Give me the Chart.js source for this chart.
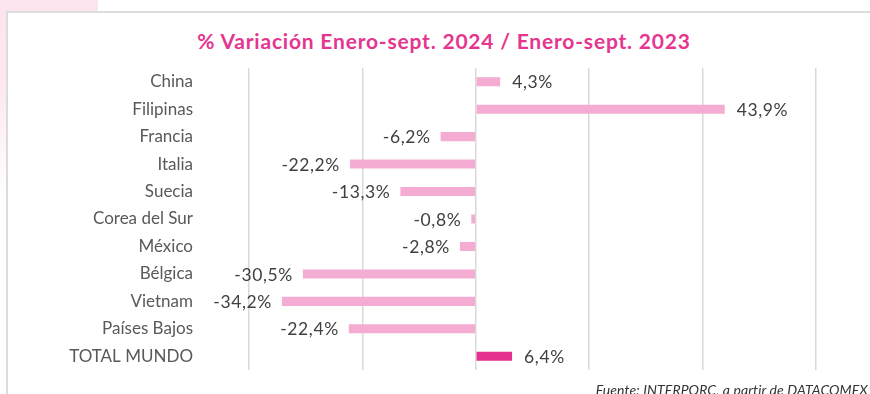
<!DOCTYPE html>
<html lang="es">
  <head>
    <meta charset="UTF-8" />
    <title>Variación Enero-sept. 2024 / 2023</title>
    <style>
      html, body { margin: 0; padding: 0; background: #fff; }
      body { width: 870px; height: 394px; position: relative; overflow: hidden; font-family: Lato, "Open Sans", sans-serif; }
      .tinte {
        position: absolute; left: 0; top: 0; width: 98px; height: 200px;
        background: linear-gradient(180deg, #fce4ef 0%, #fde9f2 45%, rgba(255,255,255,0) 100%);
      }
      .marco {
        position: absolute; left: 6px; top: 11px; width: 900px; height: 420px;
        border: 2px solid #dcdcdc; background: #fff; box-sizing: border-box;
      }
      .titulo {
        position: absolute; left: 0; width: 888px; top: 28px; text-align: center;
        color: #e5358f; font-weight: bold; font-size: 21px; letter-spacing: 0.8px;
      }
      .fuente {
        position: absolute; right: 2px; top: 381px; color: #333;
        font-style: italic; font-size: 14px; letter-spacing: 0.1px;
      }
      #variacion { position: absolute; left: 0; top: 0; }
    </style>
  </head>
  <body>
    <div class="tinte"></div>
    <div class="marco"></div>
    <div class="titulo">% Variación Enero-sept. 2024 / Enero-sept. 2023</div>
    <canvas id="variacion" width="870" height="394"></canvas>
    <div class="fuente">Fuente: INTERPORC, a partir de DATACOMEX</div>

    <script src="https://cdn.jsdelivr.net/npm/chart.js@4.4.1/dist/chart.umd.min.js"></script>
    <script>
      // países y variación (%) ene-sept 2024 vs ene-sept 2023
      const paises = [
        "China", "Filipinas", "Francia", "Italia", "Suecia", "Corea del Sur",
        "México", "Bélgica", "Vietnam", "Países Bajos", "TOTAL MUNDO",
      ];
      const variacion = [4.3, 43.9, -6.2, -22.2, -13.3, -0.8, -2.8, -30.5, -34.2, -22.4, 6.4];

      const rosa = "#f4acd3";
      const rosaFuerte = "#e5308f";
      const colores = paises.map((p) => (p === "TOTAL MUNDO" ? rosaFuerte : rosa));

      // etiqueta con el valor al final de cada barra
      const etiquetas = {
        id: "etiquetas",
        afterDatasetsDraw(chart) {
          const ctx = chart.ctx;
          const meta = chart.getDatasetMeta(0);
          ctx.save();
          ctx.font = "17.5px Lato, 'Open Sans', sans-serif";
          ctx.letterSpacing = "0.6px";
          ctx.fillStyle = "#404040";
          ctx.textBaseline = "middle";
          meta.data.forEach((bar, i) => {
            const v = variacion[i];
            const txt = v.toFixed(1).replace(".", ",") + "%";
            if (v >= 0) {
              ctx.textAlign = "left";
              ctx.fillText(txt, bar.x + 12, bar.y + 1);
            } else {
              ctx.textAlign = "right";
              ctx.fillText(txt, bar.x - 10, bar.y + 1);
            }
          });
          ctx.restore();
        },
      };

      new Chart(document.getElementById("variacion"), {
        type: "bar",
        data: {
          labels: paises,
          datasets: [
            {
              data: variacion,
              backgroundColor: colores,
              borderWidth: 0,
              barPercentage: 0.66,
              categoryPercentage: 0.5,
            },
          ],
        },
        options: {
          indexAxis: "y",
          responsive: false,
          animation: false,
          layout: { padding: { top: 68, bottom: 24, right: 54, left: 0 } },
          plugins: { legend: { display: false }, tooltip: { enabled: false } },
          scales: {
            x: {
              min: -40,
              max: 60,
              ticks: { display: false, stepSize: 20 },
              grid: { color: "#d9d9d9", lineWidth: 1.5, drawTicks: false },
              border: { display: false },
              afterFit: (s) => { s.height = 0; },
            },
            y: {
              grid: { display: false },
              border: { display: false },
              ticks: {
                color: "#595959",
                padding: 48,
                font: { family: "Lato, 'Open Sans', sans-serif", size: 17 },
              },
              // ancho fijo del eje y sin el relleno extra que añade el padding de las etiquetas
              afterFit: (s) => {
                s.width = 249;
                s.paddingTop = 0;
                s.paddingBottom = 0;
              },
            },
          },
        },
        plugins: [etiquetas],
      });
    </script>
  </body>
</html>
